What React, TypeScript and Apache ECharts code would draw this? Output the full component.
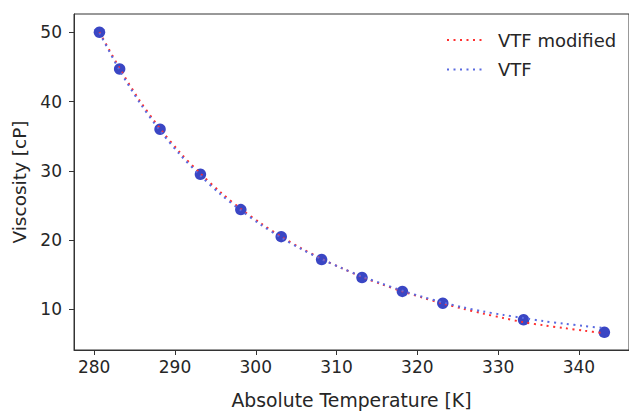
import React, { useEffect, useRef } from "react";
import * as echarts from "echarts";

const tempK = [280.65, 283.15, 288.15, 293.15, 298.15, 303.15, 308.15, 313.15, 318.15, 323.15, 333.15, 343.15];
const viscosity = [50.0, 44.7, 36.0, 29.5, 24.4, 20.5, 17.2, 14.6, 12.6, 10.9, 8.5, 6.7];

const fitT = [280.65, 283.15, 285.65, 288.15, 290.65, 293.15, 295.65, 298.15, 300.65, 303.15, 305.65, 308.15, 310.65, 313.15, 315.65, 318.15, 320.65, 323.15, 325.65, 328.15, 330.65, 333.15, 335.65, 338.15, 340.65, 343.15];
const vtfModified = [50.0, 44.8, 40.1, 36.1, 32.6, 29.6, 26.9, 24.5, 22.4, 20.5, 18.8, 17.3, 15.95, 14.7, 13.6, 12.6, 11.7, 10.85, 10.1, 9.4, 8.75, 8.15, 7.7, 7.3, 6.92, 6.56];
const vtf = [49.9, 44.5, 39.8, 35.8, 32.3, 29.3, 26.6, 24.3, 22.2, 20.35, 18.7, 17.25, 15.95, 14.75, 13.7, 12.7, 11.8, 11.0, 10.3, 9.7, 9.2, 8.75, 8.3, 7.95, 7.6, 7.3];

const xTicks = [280, 290, 300, 310, 320, 330, 340];
const yTicks = [10, 20, 30, 40, 50];

const FONT = "DejaVu Sans";
const TXT = "#262626";

export default function App() {
  const ref = useRef<HTMLDivElement>(null);
  useEffect(() => {
    if (!ref.current) return;
    const chart = echarts.init(ref.current, undefined, { renderer: "svg" });
    const pair = (xs: number[], ys: number[]) => xs.map((x, i) => [x, ys[i]]);
    chart.setOption({
      animation: false,
      backgroundColor: "#ffffff",
      grid: {
        left: 74,
        top: 14,
        right: -9,
        bottom: 56,
        show: true,
        borderColor: "#333333",
        borderWidth: 1,
      },
      legend: {
        orient: "vertical",
        left: 446,
        top: 31,
        padding: 0,
        itemWidth: 36,
        itemHeight: 14,
        itemGap: 11.5,
        data: ["VTF modified", "VTF"],
        itemStyle: { opacity: 0 },
        textStyle: { fontFamily: FONT, fontSize: 18, color: TXT, padding: [0, 0, 0, 10] },
      },
      xAxis: {
        type: "value",
        min: 277.5,
        max: 346.2,
        name: "Absolute Temperature [K]",
        nameLocation: "middle",
        nameGap: 41,
        nameTextStyle: { fontFamily: FONT, fontSize: 18.8, color: TXT },
        splitLine: { show: false },
        axisLine: { show: true, onZero: false, lineStyle: { color: "#333333", width: 1 } },
        axisTick: { show: true, length: 5, lineStyle: { color: "#333333" }, customValues: xTicks },
        axisLabel: { fontFamily: FONT, fontSize: 17, color: TXT, margin: 8, customValues: xTicks },
      },
      yAxis: {
        type: "value",
        min: 4.14,
        max: 52.63,
        name: "Viscosity [cP]",
        nameLocation: "middle",
        nameGap: 44,
        nameTextStyle: { fontFamily: FONT, fontSize: 18.5, color: TXT },
        splitLine: { show: false },
        axisLine: { show: true, onZero: false, lineStyle: { color: "#333333", width: 1 } },
        axisTick: { show: true, length: 5, lineStyle: { color: "#333333" }, customValues: yTicks },
        axisLabel: { fontFamily: FONT, fontSize: 17, color: TXT, margin: 12, customValues: yTicks },
      },
      series: [
        {
          name: "data",
          type: "scatter",
          data: pair(tempK, viscosity),
          symbol: "circle",
          symbolSize: 11.5,
          itemStyle: { color: "#3a46c4", opacity: 1 },
          z: 2,
        },
        {
          name: "VTF modified",
          type: "line",
          data: pair(fitT, vtfModified),
          showSymbol: false,
          symbol: "none",
          smooth: 0.3,
          lineStyle: { color: "#ff3030", width: 2, type: [2, 4.5] },
          itemStyle: { color: "#ff3030" },
          z: 3,
        },
        {
          name: "VTF",
          type: "line",
          data: pair(fitT, vtf),
          showSymbol: false,
          symbol: "none",
          smooth: 0.3,
          lineStyle: { color: "#5a6ae0", width: 2, type: [2, 4.5] },
          itemStyle: { color: "#5a6ae0" },
          z: 3,
        },
      ],
    });
    return () => chart.dispose();
  }, []);
  return (
    <div
      ref={ref}
      style={{ position: "fixed", left: 0, top: 0, width: 629, height: 415, background: "#fff" }}
    />
  );
}
